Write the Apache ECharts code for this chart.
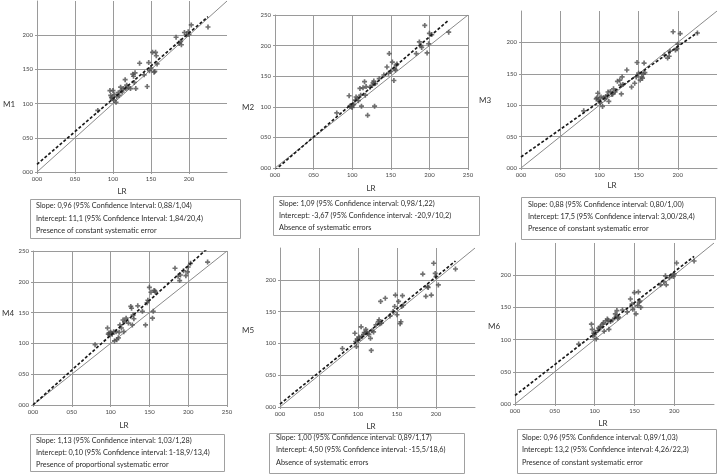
<!DOCTYPE html>
<html>
<head>
<meta charset="utf-8">
<script src="https://cdn.jsdelivr.net/npm/echarts@6/dist/echarts.min.js"></script>
<style>
  html, body { margin: 0; padding: 0; background: #fff; }
  #chart { width: 718px; height: 476px; }
</style>
</head>
<body>
<div id="chart"></div>
<script>
// LR reference values (x), shared by all six panels
var lr = [80, 96, 97, 98, 99, 100, 101, 102, 104, 105, 107, 108, 110, 111, 112, 114, 116, 117, 118, 120, 123, 126, 127, 128, 129, 130, 135, 141, 145, 147, 148, 150, 152, 154, 155, 156, 157, 158, 183, 187, 189, 190, 194, 197, 199, 200, 203, 225];

// method values (y) per panel
var m1 = [90, 119, 112, 109, 107, 119, 105, 113, 102, 110, 116, 112, 124, 119, 117, 122, 135, 122, 127, 124, 122, 143, 140, 131, 145, 122, 159, 142, 125, 160, 148, 152, 175, 146, 147, 175, 170, 158, 197, 188, 191, 186, 204, 201, 205, 201, 215, 212];
var m2 = [90, 118, 101, 102, 100, 99, 103, 104, 111, 116, 114, 110, 130, 119, 101, 131, 141, 119, 133, 86, 132, 135, 139, 142, 101, 138, 146, 152, 165, 155, 187, 158, 173, 143, 162, 160, 168, 170, 187, 206, 200, 197, 233, 188, 203, 220, 218, 222];
var m3 = [91, 110, 112, 119, 109, 106, 104, 113, 98, 112, 110, 114, 115, 121, 106, 122, 117, 118, 126, 121, 138, 140, 132, 118, 145, 133, 156, 129, 135, 145, 168, 151, 140, 145, 143, 150, 167, 152, 180, 175, 178, 186, 217, 188, 190, 197, 214, 215];
var m4 = [98, 125, 115, 117, 114, 118, 116, 115, 119, 104, 119, 106, 109, 118, 130, 125, 138, 119, 135, 141, 133, 160, 157, 130, 146, 140, 161, 152, 130, 166, 170, 191, 183, 141, 152, 186, 185, 183, 222, 209, 202, 211, 218, 210, 216, 224, 230, 232];
var m5 = [92, 116, 103, 95, 107, 105, 110, 108, 126, 111, 114, 117, 122, 118, 116, 114, 108, 89, 120, 118, 129, 134, 137, 131, 166, 132, 171, 143, 150, 158, 176, 145, 166, 131, 134, 158, 175, 160, 209, 174, 189, 188, 176, 226, 210, 205, 192, 217];
var m6 = [93, 124, 116, 106, 110, 108, 111, 101, 114, 118, 120, 119, 124, 126, 113, 129, 132, 130, 116, 128, 131, 140, 136, 145, 133, 135, 146, 143, 163, 155, 147, 173, 140, 153, 174, 158, 160, 150, 185, 190, 199, 185, 196, 199, 198, 202, 219, 222];

var methodNames = ['M1', 'M2', 'M3', 'M4', 'M5', 'M6'];

// regression slope / intercept as printed in the boxes
var slopes = [0.96, 1.09, 0.88, 1.13, 1.00, 0.96];
var intercepts = [11.1, -3.67, 17.5, 0.10, 4.50, 13.2];
var fitEndX = 225;

var tickLabels = ['000', '050', '100', '150', '200', '250'];

var boxTexts = [
    ['Slope: 0,96 (95% Confidence Interval: 0,88/1,04)', 'Intercept: 11,1 (95% Confidence Interval: 1,84/20,4)', 'Presence of constant systematic error'],
    ['Slope: 1,09 (95% Confidence interval: 0,98/1,22)', 'Intercept: -3,67 (95% Confidence interval: -20,9/10,2)', 'Absence of systematic errors'],
    ['Slope: 0,88 (95% Confidence interval: 0,80/1,00)', 'Intercept: 17,5 (95% Confidence interval: 3,00/28,4)', 'Presence of constant systematic error'],
    ['Slope: 1,13 (95% Confidence interval: 1,03/1,28)', 'Intercept: 0,10 (95% Confidence interval: 1-18,9/13,4)', 'Presence of proportional systematic error'],
    ['Slope: 1,00 (95% Confidence interval: 0,89/1,17)', 'Intercept: 4,50 (95% Confidence interval: -15,5/18,6)', 'Absence of systematic errors'],
    ['Slope: 0,96 (95% Confidence interval: 0,89/1,03)', 'Intercept: 13,2 (95% Confidence interval: 4,26/22,3)', 'Presence of constant systematic error']
];

// layout of each panel (pixels)
var layout = [
    { grid: [37, 1, 190, 171], showMax: false, yName: [3, 104], xName: [122, 191], box: [30, 199, 210, 39], textX: 36, lineY: [206, 219, 231] },
    { grid: [275, 15, 193, 153], showMax: true, yName: [242, 107], xName: [371, 188], box: [273, 196, 206, 39], textX: 279, lineY: [204, 216, 228] },
    { grid: [521, 11, 196, 157], showMax: false, yName: [479, 100], xName: [612, 185], box: [521, 197, 194, 42], textX: 528, lineY: [205, 217, 229] },
    { grid: [33, 251, 194, 154], showMax: true, yName: [2, 313], xName: [124, 425], box: [30, 434, 194, 37], textX: 36, lineY: [441, 453, 465] },
    { grid: [280, 248, 195, 159], showMax: false, yName: [242, 330], xName: [371, 426], box: [269, 433, 195, 40], textX: 276, lineY: [438, 450, 463] },
    { grid: [515, 243, 199, 161], showMax: false, yName: [488, 326], xName: [603, 423], box: [517, 429, 199, 44], textX: 522, lineY: [438, 450, 463] }
];

var ys = [m1, m2, m3, m4, m5, m6];

var gridColor = '#9a9a9a';
var labelFont = 'Lato, sans-serif';
var plusPath = 'path://M2,0H4V2H6V4H4V6H2V4H0V2H2Z';

function axisOf(i) {
    var l = layout[i];
    return {
        type: 'value',
        gridIndex: i,
        min: 0,
        max: 250,
        interval: 50,
        axisLine: { show: true, lineStyle: { color: gridColor, width: 1 } },
        axisTick: { show: true, length: 2, lineStyle: { color: gridColor } },
        axisLabel: {
            fontSize: 6,
            color: '#444',
            fontFamily: labelFont,
            margin: 4,
            showMaxLabel: l.showMax,
            formatter: function(v) {
                return tickLabels[Math.round(v / 50)];
            }
        },
        splitLine: {
            show: true,
            showMinLine: false,
            showMaxLine: l.showMax,
            lineStyle: { color: gridColor, width: 1 }
        }
    };
}

var grids = [], xAxes = [], yAxes = [], series = [], graphics = [];

layout.forEach(function(l, i) {
    grids.push({ left: l.grid[0], top: l.grid[1], width: l.grid[2], height: l.grid[3], containLabel: false });
    xAxes.push(axisOf(i));
    yAxes.push(axisOf(i));

    //identity line
    series.push({
        type: 'line',
        xAxisIndex: i,
        yAxisIndex: i,
        data: [[0, 0], [250, 250]],
        symbol: 'none',
        silent: true,
        lineStyle: { color: '#8a8a8a', width: 1 },
        z: 2
    });

    //scatter points
    series.push({
        type: 'scatter',
        xAxisIndex: i,
        yAxisIndex: i,
        data: lr.map(function(x, j) { return [x, ys[i][j]]; }),
        symbol: plusPath,
        symbolSize: 5,
        itemStyle: { color: '#4d4d4d' },
        z: 3
    });

    //regression line
    series.push({
        type: 'line',
        xAxisIndex: i,
        yAxisIndex: i,
        data: [[0, intercepts[i]], [fitEndX, intercepts[i] + slopes[i] * fitEndX]],
        symbol: 'none',
        silent: true,
        clip: true,
        lineStyle: { color: '#1a1a1a', width: 1.7, type: [3, 2] },
        z: 4
    });

    //axis titles
    graphics.push({
        type: 'text',
        x: l.yName[0],
        y: l.yName[1],
        style: { text: methodNames[i], font: '8px ' + labelFont, fill: '#333', verticalAlign: 'middle' }
    });
    graphics.push({
        type: 'text',
        x: l.xName[0],
        y: l.xName[1],
        style: { text: 'LR', font: '8px ' + labelFont, fill: '#333', align: 'center', verticalAlign: 'middle' }
    });

    //result box
    graphics.push({
        type: 'rect',
        shape: { x: l.box[0] + 0.5, y: l.box[1] + 0.5, width: l.box[2], height: l.box[3] },
        style: { fill: '#fff', stroke: '#a0a0a0', lineWidth: 1 }
    });
    boxTexts[i].forEach(function(t, k) {
        graphics.push({
            type: 'text',
            x: l.textX,
            y: l.lineY[k],
            style: { text: t, font: '7.3px ' + labelFont, fill: '#2a2a2a', verticalAlign: 'middle' }
        });
    });
});

var chart = echarts.init(document.getElementById('chart'));
chart.setOption({
    animation: false,
    backgroundColor: '#fff',
    grid: grids,
    xAxis: xAxes,
    yAxis: yAxes,
    series: series,
    graphic: graphics
});
</script>
</body>
</html>
